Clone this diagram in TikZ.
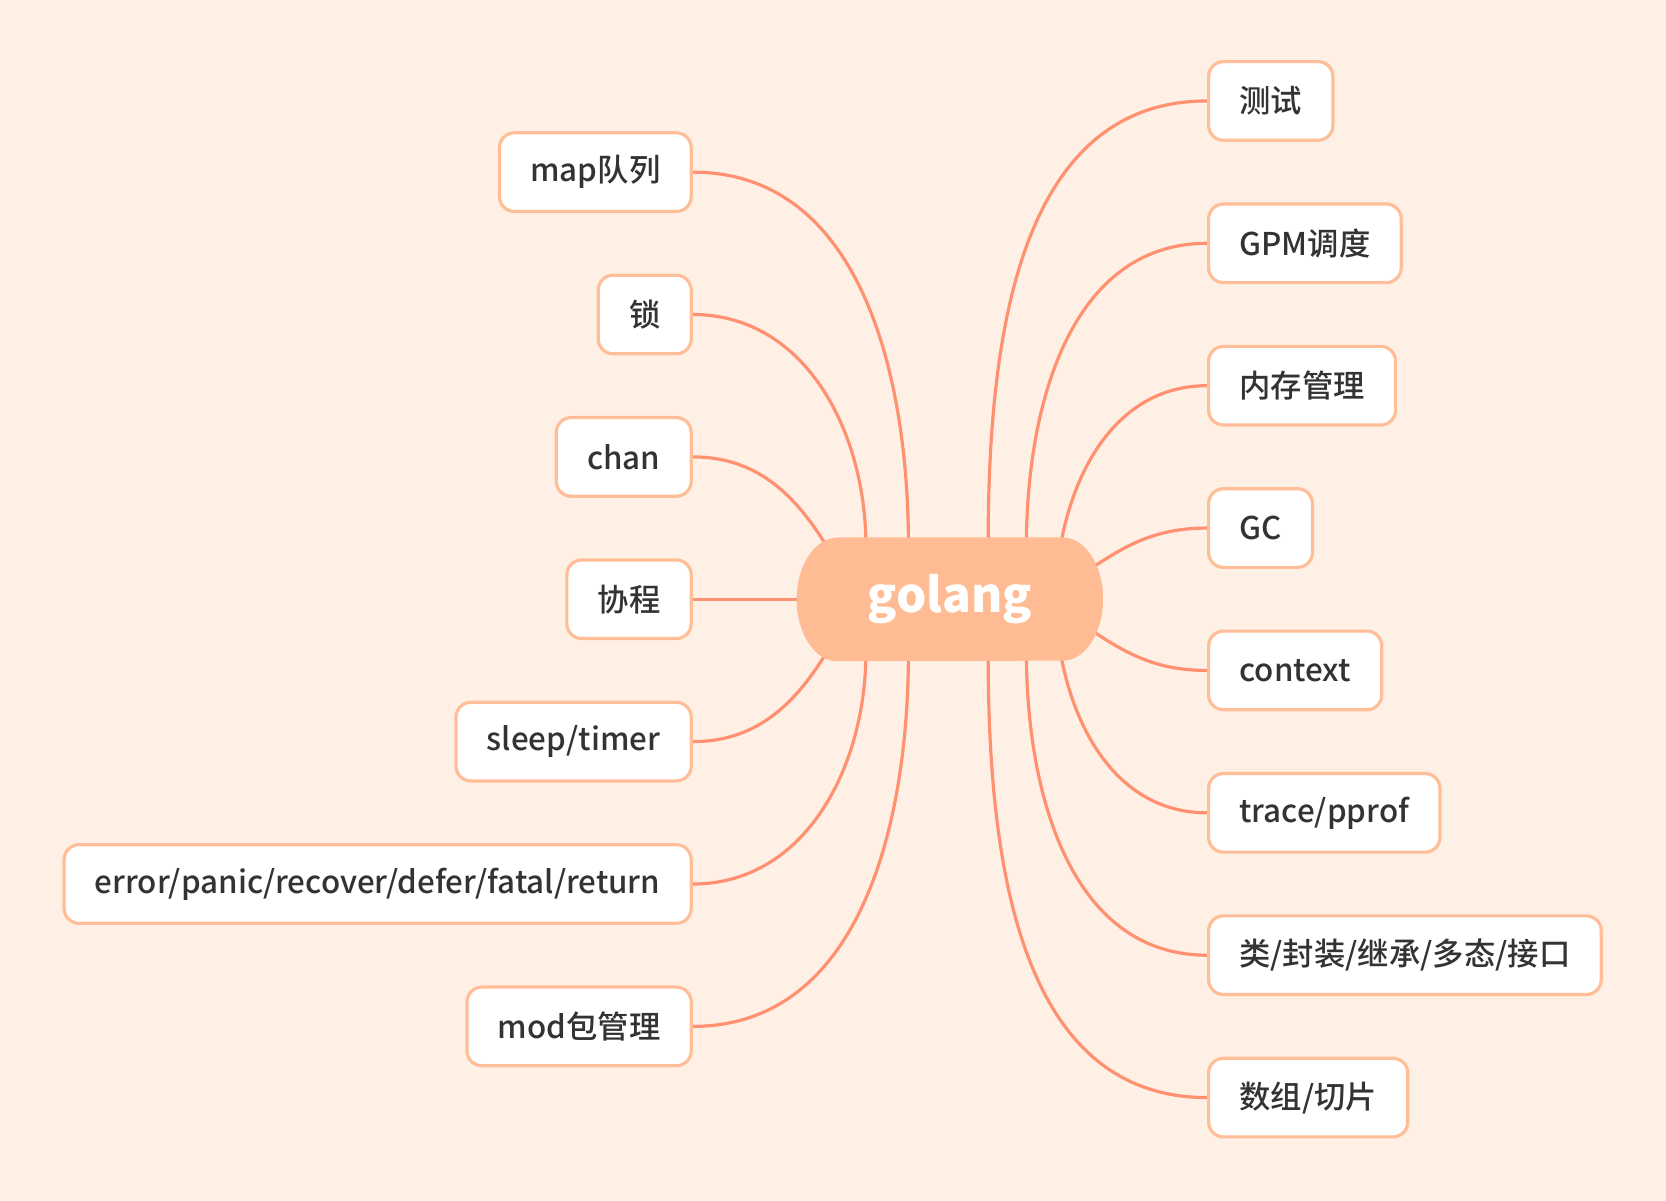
\documentclass[tikz,border=0pt]{standalone}
\usepackage{fontspec}
\setmainfont{Noto Sans CJK SC}
\newfontfamily\leaffont{Noto Sans CJK SC Medium}
\definecolor{bgc}{HTML}{FFF0E6}
\definecolor{rootc}{HTML}{FFBC94}
\definecolor{edgec}{HTML}{FF9170}
\definecolor{boxc}{HTML}{FFBE98}
\definecolor{txtc}{HTML}{333333}
\pgfdeclarelayer{back}\pgfdeclarelayer{lines}\pgfdeclarelayer{mid}
\pgfsetlayers{back,lines,mid,main}
\begin{document}
\begin{tikzpicture}[x=1pt,y=1pt,
 leaf/.style={draw=boxc, line width=3pt, fill=white, rounded corners=14pt, minimum height=74pt, inner xsep=29pt, inner ysep=0pt, text=txtc, font=\fontsize{29.5}{34}\leaffont},
 edge/.style={draw=edgec, line width=3pt},
 rootnode/.style={minimum width=288pt, minimum height=116pt, inner sep=0pt, text=white, font=\fontsize{45}{54}\selectfont\bfseries}]
\useasboundingbox (0,0) rectangle (1568,-1130);
\begin{pgfonlayer}{back}
\fill[bgc] (0,0) rectangle (1568,-1130);
\end{pgfonlayer}
% root
\node[rootnode] (c) at (894,-564) {golang};
\begin{pgfonlayer}{mid}
\fill[rootc] ([xshift=38pt]c.north west) -- ([xshift=-38pt]c.north east)
  arc[start angle=90, end angle=-90, x radius=38pt, y radius=58pt]
  -- ([xshift=38pt]c.south west)
  arc[start angle=270, end angle=90, x radius=38pt, y radius=58pt] -- cycle;
\end{pgfonlayer}
% left
\node[leaf, anchor=east] (map) at (652,-162) {map队列};
\node[leaf, anchor=east] (lock) at (652,-296) {锁};
\node[leaf, anchor=east] (chan) at (652,-430) {chan};
\node[leaf, anchor=east] (co) at (652,-564) {协程};
\node[leaf, anchor=east] (sleep) at (652,-698) {sleep/timer};
\node[leaf, anchor=east] (err) at (652,-832) {error/panic/recover/defer/fatal/return};
\node[leaf, anchor=east] (mod) at (652,-966) {mod包管理};
% right
\node[leaf, anchor=west] (test) at (1136,-95) {测试};
\node[leaf, anchor=west] (gpm) at (1136,-229) {GPM调度};
\node[leaf, anchor=west] (mem) at (1136,-363) {内存管理};
\node[leaf, anchor=west] (gc) at (1136,-497) {GC};
\node[leaf, anchor=west] (ctx) at (1136,-631) {context};
\node[leaf, anchor=west] (trace) at (1136,-765) {trace/pprof};
\node[leaf, anchor=west] (cls) at (1136,-899) {类/封装/继承/多态/接口};
\node[leaf, anchor=west] (arr) at (1136,-1033) {数组/切片};
\begin{pgfonlayer}{lines}
\draw[edge] ([shift={(-39pt,50pt)}]c.center) to[out=90,in=0] (map.east);
\draw[edge] ([shift={(-79pt,50pt)}]c.center) to[out=90,in=0] (lock.east);
\draw[edge] ([shift={(-110pt,40pt)}]c.center) to[out=120,in=0] (chan.east);
\draw[edge] (c.center) -- (co.east);
\draw[edge] ([shift={(-110pt,-40pt)}]c.center) to[out=240,in=0] (sleep.east);
\draw[edge] ([shift={(-79pt,-50pt)}]c.center) to[out=270,in=0] (err.east);
\draw[edge] ([shift={(-39pt,-50pt)}]c.center) to[out=270,in=0] (mod.east);
\draw[edge] ([shift={(36pt,50pt)}]c.center) to[out=90,in=180] (test.west);
\draw[edge] ([shift={(72pt,50pt)}]c.center) to[out=90,in=180] (gpm.west);
\draw[edge] ([shift={(104pt,50pt)}]c.center) to[out=80,in=180] (mem.west);
\draw[edge] ([shift={(120pt,20pt)}]c.center) to[out=35,in=180] (gc.west);
\draw[edge] ([shift={(120pt,-20pt)}]c.center) to[out=-35,in=180] (ctx.west);
\draw[edge] ([shift={(104pt,-50pt)}]c.center) to[out=-80,in=180] (trace.west);
\draw[edge] ([shift={(72pt,-50pt)}]c.center) to[out=270,in=180] (cls.west);
\draw[edge] ([shift={(36pt,-50pt)}]c.center) to[out=270,in=180] (arr.west);
\end{pgfonlayer}
\end{tikzpicture}
\end{document}
